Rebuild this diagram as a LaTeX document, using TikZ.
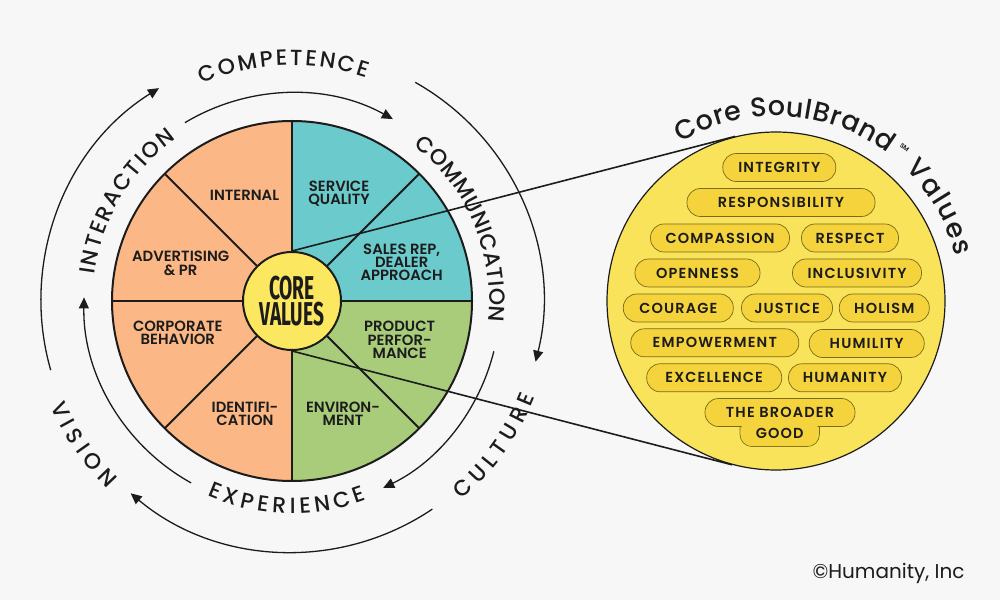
\documentclass[tikz,border=0pt]{standalone}
\usepackage{fontspec}
\setmainfont{Poppins}
\newfontfamily\pmed{Poppins Medium}
\newfontfamily\psemi{Poppins SemiBold}
\newfontfamily\psemils{Poppins SemiBold}[LetterSpace=8]
\newfontfamily\condfont{Fira Sans}[FakeStretch=0.58]
\usetikzlibrary{decorations.text,arrows.meta}
\definecolor{bgc}{HTML}{F7F7F7}
\definecolor{orangec}{HTML}{FBB886}
\definecolor{tealc}{HTML}{6BCACC}
\definecolor{greenc}{HTML}{A9CC7A}
\definecolor{corec}{HTML}{FCE860}
\definecolor{bigc}{HTML}{F9E35A}
\definecolor{pillc}{HTML}{F5D33C}
\definecolor{pilld}{HTML}{7A6A1A}
\definecolor{inkc}{HTML}{1C1C1C}
\newcommand\ringf{\pmed\fontsize{22}{22}\selectfont}
\newcommand\titlef{\pmed\fontsize{27}{27}\selectfont}
\newcommand\labf{\psemi\fontsize{14.8}{13.3}\selectfont}
\newcommand\pillf{\psemils\fontsize{14.5}{14.5}\selectfont}
\begin{document}
\begin{tikzpicture}[x=1pt,y=1pt,
  arcarrow/.style={line width=1.3pt, draw=inkc, -{Triangle[length=11pt,width=10pt]}},
  ringtext/.style={decorate, decoration={text along path, text={|\ringf|#1}, text align={fit to path}, text color=inkc}},
  titletext/.style={decorate, decoration={text along path, text={|\titlef|#1}, text align={fit to path}, text color=inkc}},
  seclabel/.style={align=center, font=\labf, text=inkc, inner sep=0pt},
  pill/.style={draw=pilld, line width=0.7pt, fill=pillc, rounded corners=13.5pt, minimum height=28pt, inner sep=0pt, font=\pillf, text=inkc},
  divider/.style={draw=inkc, line width=1.8pt},
  link/.style={draw=inkc, line width=1.6pt},
]
\fill[bgc] (0,0) rectangle (1000,600);
\useasboundingbox (0,0) rectangle (1000,600);
\coordinate (P) at (292,299);
% pie sectors
\fill[orangec] (P) -- ++(90:180) arc[start angle=90,end angle=270,radius=180] -- cycle;
\fill[tealc] (P) -- ++(0:180) arc[start angle=0,end angle=90,radius=180] -- cycle;
\fill[greenc] (P) -- ++(270:180) arc[start angle=270,end angle=360,radius=180] -- cycle;
\foreach \a in {0,45,...,315} \draw[divider] (P) -- ++(\a:180);
\node[circle, draw=inkc, line width=2pt, minimum size=360pt, inner sep=0pt] (pie) at (P) {};
% sector labels
\node[seclabel] (internal) at (244.5,405) {INTERNAL};
\node[seclabel] (service) at (339,406.5) {SERVICE\\QUALITY};
\node[seclabel] (sales) at (401.7,337.6) {SALES REP,\\DEALER\\APPROACH};
\node[seclabel] (advert) at (180.7,336.7) {ADVERTISING\\\& PR};
\node[seclabel] (corporate) at (177.8,267) {CORPORATE\\BEHAVIOR};
\node[seclabel] (product) at (399.7,260) {PRODUCT\\PERFOR-\\MANCE};
\node[seclabel] (ident) at (245,186.3) {IDENTIFI-\\CATION};
\node[seclabel] (environ) at (343,186.3) {ENVIRON-\\MENT};
% big circle
\node[circle, fill=bigc, draw=inkc, line width=1.2pt, minimum size=338pt, inner sep=0pt] (big) at (776,299) {};
% core
\node[circle, fill=corec, draw=inkc, line width=2pt, minimum size=98pt, inner sep=0pt, align=center, text=inkc, font=\condfont\bfseries\fontsize{33}{25.5}\selectfont] (core) at (P) {CORE\\VALUES};
\draw[link] (core.north) -- (big.104.5);
\draw[link] (core.south) -- (big.255.5);
% ring arrows
\draw[arcarrow] (P) ++(121:208) arc[start angle=121,end angle=61,radius=208];
\draw[arcarrow] (P) ++(-14:208) arc[start angle=-14,end angle=-64,radius=208];
\draw[arcarrow] (P) ++(241:208) arc[start angle=241,end angle=179,radius=208];
\draw[arcarrow] (P) ++(196:251) arc[start angle=196,end angle=122,radius=251];
\draw[arcarrow] (P) ++(60.6:251) arc[start angle=60.6,end angle=-14,radius=251];
\draw[arcarrow] (P) ++(-56:251) arc[start angle=-56,end angle=-130,radius=251];
% ring labels
\path[ringtext=COMPETENCE] (P) ++(112.5:235.5) arc[start angle=112.5,end angle=71.5,radius=235.5];
\path[ringtext=INTERACTION] (P) ++(172.5:199.5) arc[start angle=172.5,end angle=125.5,radius=199.5];
\path[ringtext=COMMUNICATION] (P) ++(52:197.5) arc[start angle=52,end angle=-6,radius=197.5];
\path[ringtext=EXPERIENCE] (P) ++(-113.5:212.5) arc[start angle=-113.5,end angle=-69.5,radius=212.5];
\path[ringtext=CULTURE] (P) ++(-49.5:261.5) arc[start angle=-49.5,end angle=-21.5,radius=261.5];
\path[ringtext=VISION] (P) ++(203.5:263.5) arc[start angle=203.5,end angle=225.5,radius=263.5];
% title
\path[titletext={Core SoulBrand}] (big.center) ++(121:185) arc[start angle=121,end angle=53,radius=185];
\path[titletext={Values}] (big.center) ++(45.5:185) arc[start angle=45.5,end angle=14,radius=185];
\path (big.center) ++(50:200) node[font=\psemi\fontsize{6.5}{6.5}\selectfont, text=inkc, rotate=-40, inner sep=0pt] (sm) {SM};
% pills
\node[pill, minimum width=113pt] (integrity) at (779.3,432.5) {INTEGRITY};
\node[pill, minimum width=188pt] (responsibility) at (781,397.5) {RESPONSIBILITY};
\node[pill, minimum width=139pt] (compassion) at (720,362) {COMPASSION};
\node[pill, minimum width=97pt] (respect) at (850,362) {RESPECT};
\node[pill, minimum width=125pt] (openness) at (697.5,327) {OPENNESS};
\node[pill, minimum width=129pt] (inclusivity) at (857,327) {INCLUSIVITY};
\node[pill, minimum width=110pt] (courage) at (678.3,292) {COURAGE};
\node[pill, minimum width=91pt] (justice) at (787,292) {JUSTICE};
\node[pill, minimum width=90pt] (holism) at (884.3,292) {HOLISM};
\node[pill, minimum width=168pt] (empowerment) at (714.8,257.2) {EMPOWERMENT};
\node[pill, minimum width=115pt] (humility) at (866.7,256.5) {HUMILITY};
\node[pill, minimum width=135pt] (excellence) at (714.2,222.2) {EXCELLENCE};
\node[pill, minimum width=113pt] (humanity) at (845,222.2) {HUMANITY};
\node[pill, rounded corners=12pt, minimum width=79.4pt, minimum height=32pt] (goodframe) at (779.7,169.5) {};
\node[pill, minimum width=150pt] (broader) at (780,187.5) {THE BROADER};
\node[pill, draw=none, rounded corners=11.5pt, minimum width=78pt, minimum height=26pt] (good) at (779.7,167) {GOOD};
% copyright
\node[font=\fontsize{20}{20}\selectfont, text=inkc, inner sep=0pt] (copy) at (888.5,27) {©Humanity, Inc};
\end{tikzpicture}
\end{document}
